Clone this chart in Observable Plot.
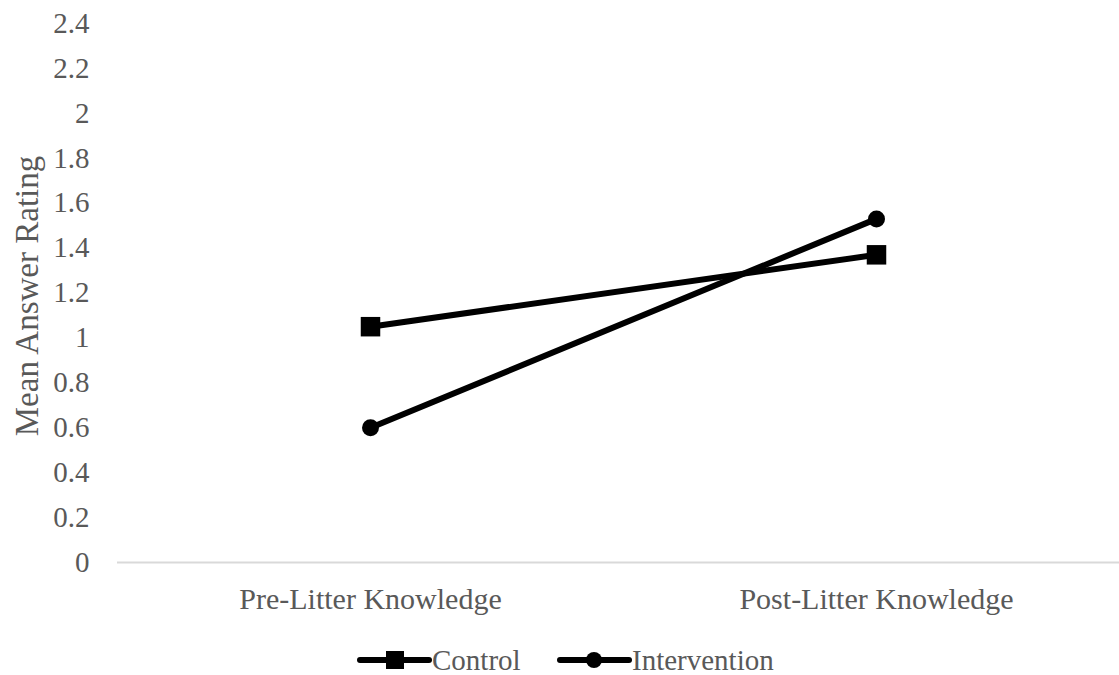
<!DOCTYPE html>
<html>
<head>
<meta charset="utf-8">
<script src="https://cdn.jsdelivr.net/npm/d3@7"></script>
<script src="https://cdn.jsdelivr.net/npm/@observablehq/plot@0.6"></script>
<style>
  html, body { margin: 0; padding: 0; background: #fff; overflow: hidden; }
  #chart svg { display: block; }
  .legend { position: relative; height: 35px;
            font-family: "Liberation Serif", "Times New Roman", serif; font-size: 29px; color: #595959; }
  .legend .item { display: flex; align-items: center; position: absolute; line-height: 26px; height: 26px; }
  .legend svg { display: block; }
</style>
</head>
<body>
<div id="chart"></div>
<div class="legend" id="legend"></div>
<script>
// Mean answer ratings before and after the litter lesson
const phases = ["Pre-Litter Knowledge", "Post-Litter Knowledge"];
const series = ["Control", "Intervention"];
const controlValues = [1.05, 1.37];
const interventionValues = [0.6, 1.53];
const yTicks = [0, 0.2, 0.4, 0.6, 0.8, 1, 1.2, 1.4, 1.6, 1.8, 2, 2.2, 2.4];

const rows = [
  ...phases.map((p, i) => ({phase: p, series: "Control", value: controlValues[i]})),
  ...phases.map((p, i) => ({phase: p, series: "Intervention", value: interventionValues[i]}))
];

const grey = "#595959";
const font = "'Liberation Serif', 'Times New Roman', serif";

const chart = Plot.plot({
  width: 1119,
  height: 640,
  marginLeft: 117,
  marginRight: 0,
  marginTop: 23,
  marginBottom: 78,
  style: {fontFamily: font, fontSize: "29px", color: grey, background: "#fff"},
  x: {type: "point", domain: phases, range: [117, 1129], padding: 0.5, label: null},
  y: {domain: [0, 2.4], ticks: yTicks, label: null},
  marks: [
    Plot.axisY({ticks: yTicks, tickSize: 0, tickPadding: 28, fontSize: 29, fill: grey,
                tickFormat: d => String(d), label: null}),
    Plot.text(["Mean Answer Rating"], {frameAnchor: "left", textAnchor: "middle", dx: -90, dy: 3,
                rotate: -90, fontSize: 33, fill: grey, lineWidth: 20}),
    Plot.axisX({tickSize: 0, tickPadding: 25, fontSize: 30, fill: grey, label: null}),
    Plot.ruleY([0], {stroke: "#d9d9d9", strokeWidth: 2}),
    Plot.line(rows, {x: "phase", y: "value", z: "series", stroke: "#000", strokeWidth: 6}),
    Plot.dot(rows.filter(d => d.series === "Control"),
             {x: "phase", y: "value", symbol: "square", r: 11, fill: "#000", stroke: "none"}),
    Plot.dot(rows.filter(d => d.series === "Intervention"),
             {x: "phase", y: "value", symbol: "circle", r: 8.5, fill: "#000", stroke: "none"})
  ]
});
document.getElementById("chart").appendChild(chart);

// Legend: line swatches with the series markers
const legend = d3.select("#legend");
const legendPos = {Control: 357, Intervention: 557};
series.forEach(name => {
  const item = legend.append("div").attr("class", "item")
    .style("left", legendPos[name] + "px").style("top", "7px");
  const sw = item.append("svg").attr("width", 75).attr("height", 26);
  sw.append("line").attr("x1", 3).attr("x2", 72).attr("y1", 13).attr("y2", 13)
    .attr("stroke", "#000").attr("stroke-width", 6).attr("stroke-linecap", "round");
  if (name === "Control") {
    sw.append("rect").attr("x", 29).attr("y", 4).attr("width", 18).attr("height", 18).attr("fill", "#000");
  } else {
    sw.append("circle").attr("cx", 37).attr("cy", 13).attr("r", 8).attr("fill", "#000");
  }
  item.append("span").text(name);
});
</script>
</body>
</html>
